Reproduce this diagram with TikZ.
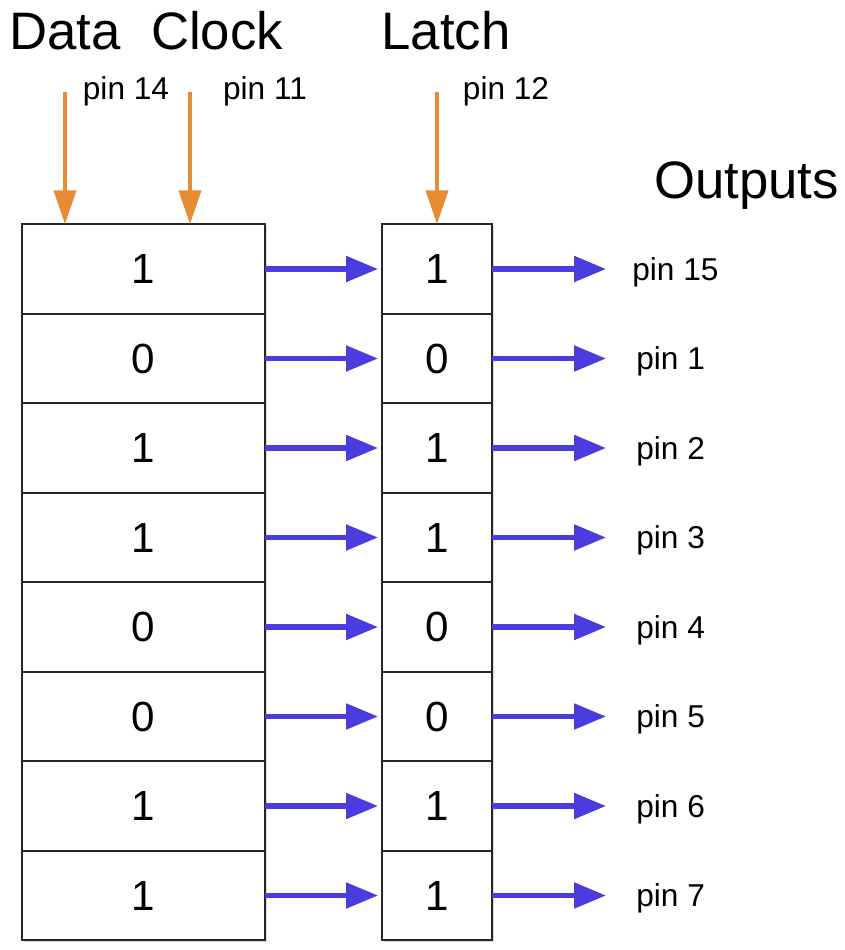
\documentclass[tikz,border=0pt]{standalone}
\usepackage{fontspec}
\setmainfont{Liberation Sans}
\usetikzlibrary{
    arrows.meta,
    shadows,
    calc
}
\definecolor{feedorange}{RGB}{230,140,50}
\definecolor{busblue}{RGB}{74,60,222}
\tikzset{%
    % Specifications for style of nodes:
    cell/.style = {
        rectangle, draw=black!85, line width=1.1pt,
        fill=white, outer sep=0pt,
        minimum height=1.79cm, font=\fontsize{24}{28}\selectfont,
        drop shadow={shadow xshift=0.04cm, shadow yshift=-0.04cm, opacity=0.3}
    },
    reg/.style = {cell, minimum width=4.86cm},
    lat/.style = {cell, minimum width=2.2cm},
    title/.style = {anchor=base, font=\fontsize{30}{35}\selectfont},
    pinlabel/.style = {anchor=base, inner sep=0pt, font=\fontsize{18}{21}\selectfont},
    outlabel/.style = {pinlabel, anchor=base west},
    feed/.style = {draw=feedorange, line width=2.4pt,
        -{Triangle[length=0.68cm, width=0.44cm]}},
    bus/.style = {draw=busblue, line width=3pt,
        -{Triangle[length=0.64cm, width=0.5cm]}}
}
\begin{document}
\begin{tikzpicture}
    \useasboundingbox (0,0) rectangle (16.88,-19);
    % titles and control pins
    \node[title] (data) at (1.3,-1.0) {Data};
    \node[title] (clock) at (4.34,-1.0) {Clock};
    \node[title] (latch) at (8.92,-1.0) {Latch};
    \node[title] (outputs) at (14.93,-3.96) {Outputs};
    \node[pinlabel] (pin14) at (2.52,-2.0) {pin 14};
    \node[pinlabel] (pin11) at (5.3,-2.0) {pin 11};
    \node[pinlabel] (pin12) at (10.12,-2.0) {pin 12};
    % shift register
    \node[reg] (reg1) at (2.87,-5.38) {1};
    \node[reg] (reg2) at (2.87,-7.17) {0};
    \node[reg] (reg3) at (2.87,-8.96) {1};
    \node[reg] (reg4) at (2.87,-10.75) {1};
    \node[reg] (reg5) at (2.87,-12.54) {0};
    \node[reg] (reg6) at (2.87,-14.33) {0};
    \node[reg] (reg7) at (2.87,-16.12) {1};
    \node[reg] (reg8) at (2.87,-17.91) {1};
    % storage latch
    \node[lat] (lat1) at (8.74,-5.38) {1};
    \node[lat] (lat2) at (8.74,-7.17) {0};
    \node[lat] (lat3) at (8.74,-8.96) {1};
    \node[lat] (lat4) at (8.74,-10.75) {1};
    \node[lat] (lat5) at (8.74,-12.54) {0};
    \node[lat] (lat6) at (8.74,-14.33) {0};
    \node[lat] (lat7) at (8.74,-16.12) {1};
    \node[lat] (lat8) at (8.74,-17.91) {1};
    % output pins
    \node[outlabel] (out1) at (12.64,-5.6) {pin 15};
    \node[outlabel] (out2) at (12.72,-7.39) {pin 1};
    \node[outlabel] (out3) at (12.72,-9.18) {pin 2};
    \node[outlabel] (out4) at (12.72,-10.97) {pin 3};
    \node[outlabel] (out5) at (12.72,-12.76) {pin 4};
    \node[outlabel] (out6) at (12.72,-14.55) {pin 5};
    \node[outlabel] (out7) at (12.72,-16.34) {pin 6};
    \node[outlabel] (out8) at (12.72,-18.13) {pin 7};
    % control inputs
    \coordinate (datain) at (1.3,-1.84);
    \coordinate (clockin) at (3.8,-1.84);
    \coordinate (latchin) at (8.74,-1.84);
    \draw[feed] (datain) -- (datain |- reg1.north);
    \draw[feed] (clockin) -- (clockin |- reg1.north);
    \draw[feed] (latchin) -- (lat1.north);
    % register to latch, latch to pins
    \draw[bus, shorten >=0.08cm] (reg1.east) -- (lat1.west);
    \draw[bus, shorten >=0.08cm] (reg2.east) -- (lat2.west);
    \draw[bus, shorten >=0.08cm] (reg3.east) -- (lat3.west);
    \draw[bus, shorten >=0.08cm] (reg4.east) -- (lat4.west);
    \draw[bus, shorten >=0.08cm] (reg5.east) -- (lat5.west);
    \draw[bus, shorten >=0.08cm] (reg6.east) -- (lat6.west);
    \draw[bus, shorten >=0.08cm] (reg7.east) -- (lat7.west);
    \draw[bus, shorten >=0.08cm] (reg8.east) -- (lat8.west);
    \draw[bus, shorten >=0.52cm] (lat1.east) -- (lat1.east -| out1.west);
    \draw[bus, shorten >=0.6cm] (lat2.east) -- (lat2.east -| out2.west);
    \draw[bus, shorten >=0.6cm] (lat3.east) -- (lat3.east -| out3.west);
    \draw[bus, shorten >=0.6cm] (lat4.east) -- (lat4.east -| out4.west);
    \draw[bus, shorten >=0.6cm] (lat5.east) -- (lat5.east -| out5.west);
    \draw[bus, shorten >=0.6cm] (lat6.east) -- (lat6.east -| out6.west);
    \draw[bus, shorten >=0.6cm] (lat7.east) -- (lat7.east -| out7.west);
    \draw[bus, shorten >=0.6cm] (lat8.east) -- (lat8.east -| out8.west);
\end{tikzpicture}
\end{document}
